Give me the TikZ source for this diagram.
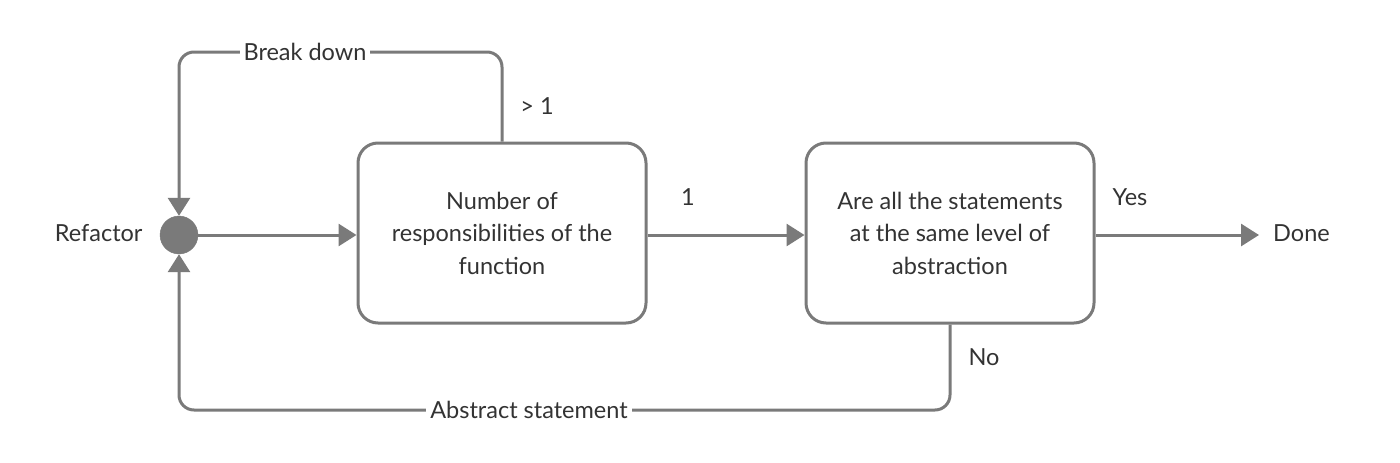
\documentclass[tikz,border=0pt]{standalone}
\usepackage{fontspec}
\setmainfont{Lato}
\usetikzlibrary{arrows.meta}
\definecolor{ln}{HTML}{7A7A7A}
\definecolor{tx}{HTML}{333333}
\tikzset{
  every node/.style={text=tx, font=\fontsize{23.5}{32.5}\selectfont},
  flowbox/.style={draw=ln, line width=3pt, rounded corners=20pt, minimum width=288pt, minimum height=180pt, align=center, inner sep=0pt},
  conn/.style={draw=ln, line width=3pt, -{Triangle[length=18pt,width=22pt]}},
  lbl/.style={fill=white, inner sep=4pt},
}
\begin{document}
\begin{tikzpicture}[x=1pt,y=-1pt]
\useasboundingbox (0,0) rectangle (1400,463);
\node[circle, fill=ln, draw=ln, minimum size=38pt, inner sep=0pt] (c) at (179,235) {};
\node[anchor=east] (refactor) at (146,233) {Refactor};
\node[flowbox] (b1) at (502,233) {Number of\\responsibilities of the\\function};
\node[flowbox] (b2) at (950,233) {Are all the statements\\at the same level of\\abstraction};
\node[anchor=west, inner sep=0pt] (done) at (1273,233) {Done};
\coordinate (tl) at (179,52);
\coordinate (bl) at (179,410);
\draw[conn, rounded corners=15pt] (b1.north) |- (tl) -- (c.north);
\draw[conn, rounded corners=15pt] (b2.south) |- (bl) -- (c.south);
\draw[conn] (c.east) -- (c.east -| b1.west);
\draw[conn] (b1.east |- c.east) -- (c.east -| b2.west);
\draw[conn, shorten >=14pt] (b2.east |- c.east) -- (c.east -| done.west);
\node[lbl] (bd) at (305,52) {Break down};
\node[lbl] (as) at (529,410) {Abstract statement};
\node (gt) at (537,106) {> 1};
\node (one) at (688,197) {1};
\node (yes) at (1130,197) {Yes};
\node (no) at (984,357) {No};
\end{tikzpicture}
\end{document}
